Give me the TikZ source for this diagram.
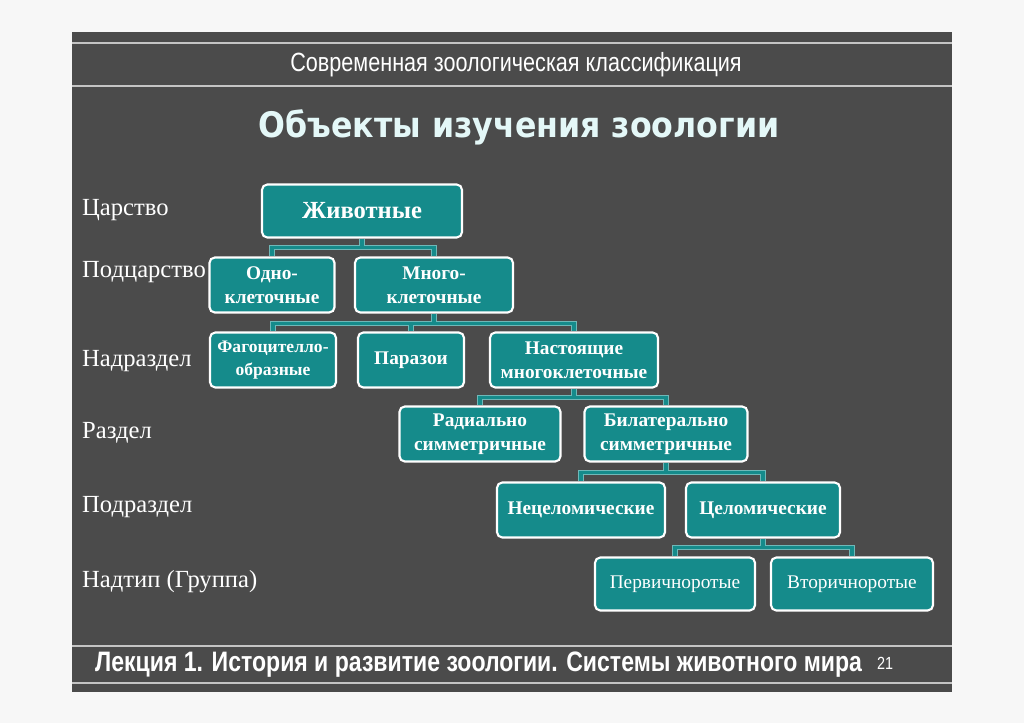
\documentclass[tikz,border=0pt]{standalone}
\usepackage{fontspec}
\setmainfont{Liberation Serif}
\newfontfamily\narrowsans[FakeStretch=0.82]{Liberation Sans}
\newfontfamily\headsans[FakeStretch=0.9]{DejaVu Sans}
\usetikzlibrary{positioning}
\definecolor{pagebg}{HTML}{F7F7F7}
\definecolor{slidegrey}{HTML}{4B4B4B}
\definecolor{rulegrey}{HTML}{C4C4C4}
\definecolor{tealbox}{HTML}{158B8B}
\definecolor{tealedge}{HTML}{6FB8B8}
\definecolor{headcol}{HTML}{E4F8F8}
\tikzset{
  taxbox/.style={draw=white, line width=1.2pt, fill=tealbox, rounded corners=3pt,
    text=white, align=center, minimum height=1.1cm, inner sep=1pt,
    font=\fontsize{11}{13.5}\selectfont\bfseries},
  taxplain/.style={taxbox, font=\fontsize{11}{13.5}\selectfont},
  rank/.style={anchor=west, text=white, font=\fontsize{14}{16}\selectfont},
  link/.style={draw=tealbox, line width=2.2pt, preaction={draw=tealedge, line width=3.2pt}}
}
\begin{document}
\begin{tikzpicture}[x=0.02cm,y=-0.02cm]
\useasboundingbox (0,0) rectangle (1024,723);
\fill[pagebg] (0,0) rectangle (1024,723);
\fill[slidegrey] (72,32) rectangle (952,692);
% header and footer rules
\draw[rulegrey, line width=1.2pt] (72,43) -- (952,43);
\draw[rulegrey, line width=1.2pt] (72,86) -- (952,86);
\draw[rulegrey, line width=1.2pt] (72,646) -- (952,646);
\draw[rulegrey, line width=1.2pt] (72,683) -- (952,683);
\node[text=white] (topic) at (516,65) {\narrowsans\fontsize{15}{17}\selectfont Современная зоологическая классификация};
\node[text=headcol] (head) at (519,127) {\headsans\bfseries\fontsize{20}{24}\selectfont Объекты изучения зоологии};
\node[text=white, anchor=west] (lecture) at (89,665) {\narrowsans\bfseries\fontsize{16}{18}\selectfont Лекция 1. История и развитие зоологии. Системы животного мира};
\node[text=white] (pageno) at (885,663) {\narrowsans\fontsize{10}{11}\selectfont 21};
% ranks
\node[rank] (r1) at (76,210) {Царство};
\node[rank] (r2) at (76,272) {Подцарство};
\node[rank] (r3) at (76,361) {Надраздел};
\node[rank] (r4) at (76,433) {Раздел};
\node[rank] (r5) at (76,507) {Подраздел};
\node[rank] (r6) at (76,582) {Надтип (Группа)};
% taxa
\node[taxbox, minimum width=4cm, minimum height=1.06cm, font=\fontsize{14}{16}\selectfont\bfseries] (anim) at (362,211) {Животные};
\node[taxbox, minimum width=2.5cm] (uni) at (272,285) {Одно-\\клеточные};
\node[taxbox, minimum width=3.16cm] (multi) at (434,285) {Много-\\клеточные};
\node[taxbox, minimum width=2.52cm, font=\fontsize{10}{13.5}\selectfont\bfseries] (phago) at (273,360) {Фагоцителло-\\образные};
\node[taxbox, minimum width=2.12cm] (para) at (411,360) {Паразои};
\node[taxbox, minimum width=3.36cm] (eumet) at (574,360) {Настоящие\\многоклеточные};
\node[taxbox, minimum width=3.22cm] (radial) at (480,434) {Радиально\\симметричные};
\node[taxbox, minimum width=3.26cm] (bilat) at (666,434) {Билатерально\\симметричные};
\node[taxbox, minimum width=3.36cm] (acoel) at (581,510) {Нецеломические};
\node[taxbox, minimum width=3.08cm] (coel) at (763,510) {Целомические};
\node[taxplain, minimum width=3.2cm, minimum height=1.06cm] (proto) at (675,584) {Первичноротые};
\node[taxplain, minimum width=3.24cm, minimum height=1.06cm] (deut) at (852,584) {Вторичноротые};
% links
\draw[link] (anim.south) -- ++(0,9) coordinate (j1) -| (uni.north) (j1) -| (multi.north);
\draw[link] (multi.south) -- ++(0,10) coordinate (j2) -| (phago.north) (j2) -| (para.north) (j2) -| (eumet.north);
\draw[link] (eumet.south) -- ++(0,9) coordinate (j3) -| (radial.north) (j3) -| (bilat.north);
\draw[link] (bilat.south) -- ++(0,10) coordinate (j4) -| (acoel.north) (j4) -| (coel.north);
\draw[link] (coel.south) -- ++(0,9) coordinate (j5) -| (proto.north) (j5) -| (deut.north);
\end{tikzpicture}
\end{document}
